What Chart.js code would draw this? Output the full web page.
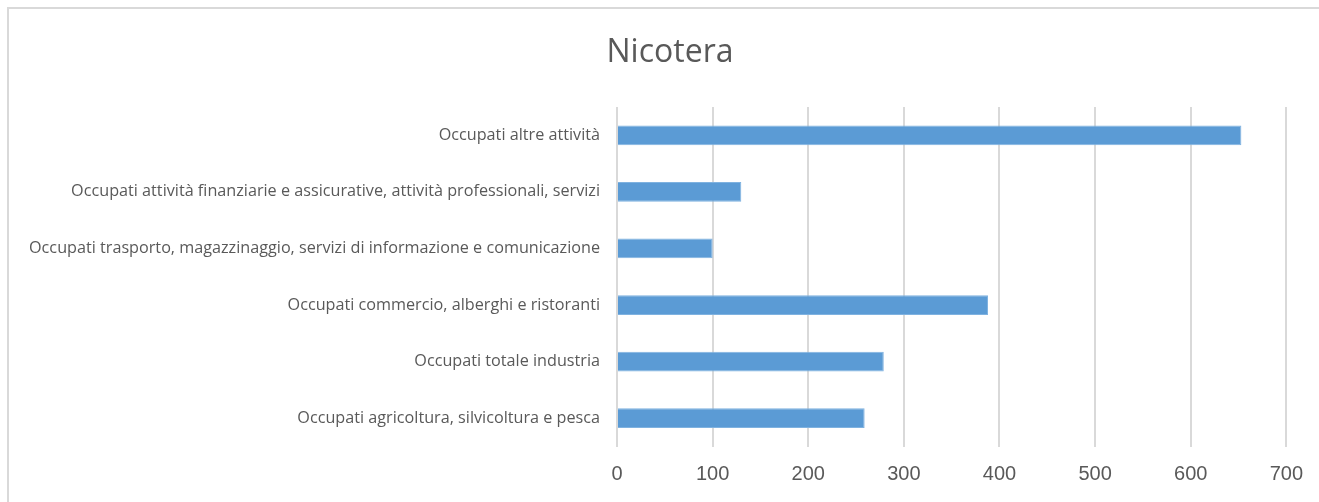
<!DOCTYPE html>
<html>
<head>
<meta charset="utf-8">
<script src="https://cdn.jsdelivr.net/npm/chart.js@4/dist/chart.umd.min.js"></script>
<style>
    html, body { margin: 0; padding: 0; background: #fff; overflow: hidden; }
    #frame {
        position: absolute; left: 7px; top: 7px; width: 1400px; height: 600px;
        border-left: 2px solid #d9d9d9; border-top: 2px solid #d9d9d9;
    }
    #wrap { position: absolute; left: 0; top: 0; width: 1319px; height: 502px; }
</style>
</head>
<body>
<div id="frame"></div>
<div id="wrap"><canvas id="chart"></canvas></div>
<script>
// settori di occupazione, dall'alto verso il basso
let categories = [
    'Occupati altre attività',
    'Occupati attività finanziarie e assicurative, attività professionali, servizi',
    'Occupati trasporto, magazzinaggio, servizi di informazione e comunicazione',
    'Occupati commercio, alberghi e ristoranti',
    'Occupati totale industria',
    'Occupati agricoltura, silvicoltura e pesca'
];
let occupati = [653, 130, 100, 388, 279, 259];
let xTicks = [0, 100, 200, 300, 400, 500, 600, 700];
let chartTitle = 'Nicotera';

const textColor = '#595959';
const gridColor = '#d9d9d9';

// titolo centrato sopra l'area del grafico (non sull'intero canvas)
const titlePlugin = {
    id: 'titoloNicotera',
    afterDraw(chart) {
        const c = chart.ctx;
        c.save();
        c.font = '32px "Open Sans"';
        c.fillStyle = textColor;
        c.textAlign = 'center';
        c.textBaseline = 'middle';
        c.fillText(chartTitle, 670, 53);
        c.restore();
    }
};

const ctx = document.getElementById('chart').getContext('2d');
let chartInstance = new Chart(ctx, {
    type: 'bar',
    data: {
        labels: categories,
        datasets: [{
            label: chartTitle,
            data: occupati,
            backgroundColor: '#5b9bd5',
            borderColor: '#7fb2e0',
            borderWidth: 1,
            barPercentage: 0.7,
            categoryPercentage: 0.5
        }]
    },
    options: {
        indexAxis: 'y',
        responsive: true,
        maintainAspectRatio: false,
        animation: false,
        layout: { padding: { left: 0, right: 31, top: 107, bottom: 0 } },
        plugins: {
            legend: { display: false },
            tooltip: { enabled: false },
            title: { display: false }
        },
        scales: {
            x: {
                min: 0,
                max: 700,
                afterBuildTicks: (scale) => {
                    scale.ticks = xTicks.map(v => ({ value: v }));
                },
                afterFit: (scale) => { scale.height = 55.5; },
                grid: { color: gridColor, lineWidth: 2, drawTicks: false },
                border: { display: false },
                ticks: {
                    color: textColor,
                    padding: 16,
                    font: { family: 'Liberation Sans Narrow, Liberation Sans', size: 20 }
                }
            },
            y: {
                afterFit: (scale) => { scale.width = 617; },
                grid: { display: false, drawTicks: false },
                border: { display: false },
                ticks: {
                    color: textColor,
                    padding: 17,
                    font: { family: 'Open Sans', size: 16.2 }
                }
            }
        }
    },
    plugins: [titlePlugin]
});
</script>
</body>
</html>
